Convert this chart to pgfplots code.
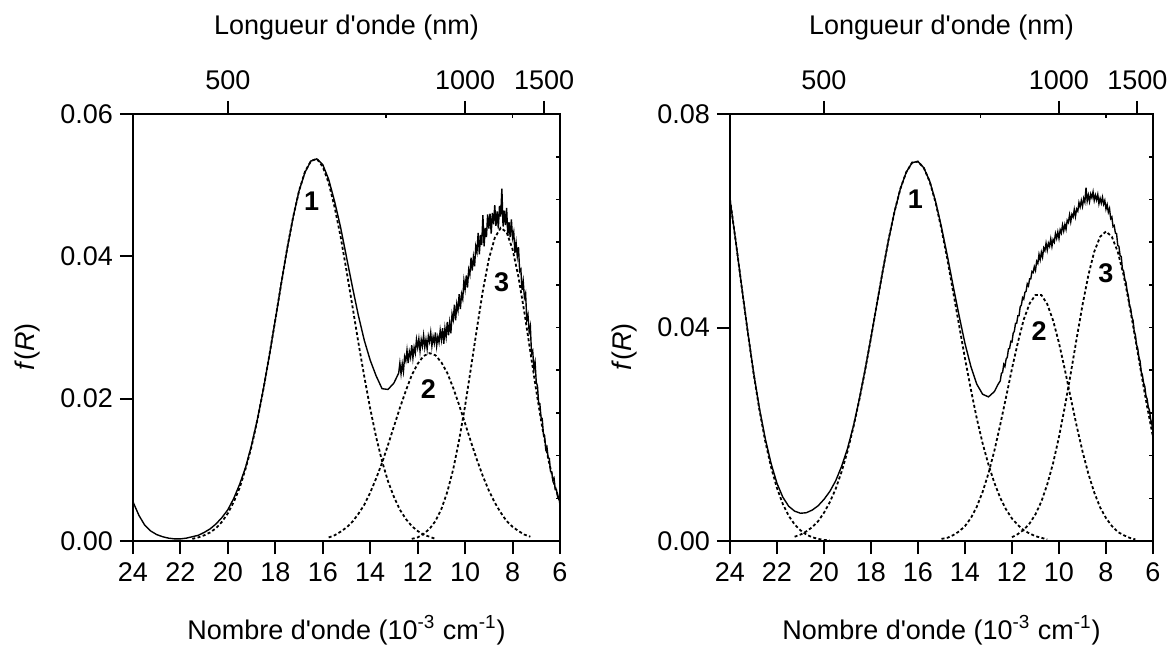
\documentclass[border=0pt]{standalone}
\usepackage{fontspec}
\setmainfont{Liberation Sans}[Ligatures=TeXOff]
\usepackage{pgfplots}
\pgfplotsset{compat=1.18}
\newcommand\tf{\fontsize{13.5}{16}\selectfont}
\newcommand\nf{\fontsize{13.5}{16}\selectfont\bfseries}
\pgfplotsset{
  panel/.style={scale only axis, width=213.5pt, height=213.5pt, xmin=6, xmax=24, x dir=reverse, clip=false,
     scaled x ticks=false, scaled y ticks=false,
     axis line style={line width=1pt, line cap=rect}, tick style={line width=1pt, black}, ticklabel style={font=\tf}},
  mainax/.style={panel, axis x line*=bottom, axis y line*=left, tick align=outside, major tick length=6.5pt,
     xtick={6,8,...,24}, xticklabels={6,8,10,12,14,16,18,20,22,24}, xticklabel style={yshift=-1pt}},
  topax/.style={panel, ymin=0, ymax=1, axis x line*=top, axis y line=none, tick align=outside, major tick length=6.5pt,
     xtick={20,10,6.6667}, xticklabels={500,1000,1500}, ytick=\empty, xticklabel style={yshift=2pt}},
  rightax/.style={panel, ymin=0, ymax=1, axis x line*=top, axis y line*=right, tick align=inside, major tick length=2pt,
     xtick={13.3333,8}, xticklabels={}, ytick={0.1,0.2,0.3,0.4,0.5,0.6,0.7,0.8,0.9}, yticklabels={}, tick style={line width=0.8pt}},
  tot/.style={black, line width=0.7pt},
  comp/.style={black, line width=0.9pt, dash pattern=on 1.5pt off 1.2pt},
}
\begin{document}
\begin{tikzpicture}
\path[use as bounding box] (-66.5pt,-52pt) rectangle (518pt,270.5pt);
% ================= LEFT PANEL =================
\begin{axis}[mainax, name=L, ymin=0, ymax=0.06, ytick={0,0.02,0.04,0.06}, yticklabels={0.00,0.02,0.04,0.06}]
\addplot[comp] coordinates {(21.5,0.0003)(21.25,0.0005)(21.0,0.0008)(20.75,0.0012)(20.5,0.0018)(20.25,0.0027)(20.0,0.0039)(19.75,0.0055)(19.5,0.0075)(19.25,0.0102)(19.0,0.0133)(18.75,0.0171)(18.5,0.0214)(18.25,0.0261)(18.0,0.0311)(17.75,0.0362)(17.5,0.0411)(17.25,0.0455)(17.0,0.0492)(16.75,0.0519)(16.5,0.0534)(16.25,0.0537)(16.0,0.0526)(15.75,0.0503)(15.5,0.0469)(15.25,0.0428)(15.0,0.0380)(14.75,0.0330)(14.5,0.0279)(14.25,0.0231)(14.0,0.0186)(13.75,0.0146)(13.5,0.0112)(13.25,0.0084)(13.0,0.0062)(12.75,0.0044)(12.5,0.0031)(12.25,0.0021)(12.0,0.0014)(11.75,0.0009)(11.5,0.0006)(11.25,0.0003)};
\addplot[comp] coordinates {(15.75,0.0005)(15.5,0.0008)(15.25,0.0013)(15.0,0.0019)(14.75,0.0027)(14.5,0.0038)(14.25,0.0051)(14.0,0.0068)(13.75,0.0088)(13.5,0.0110)(13.25,0.0135)(13.0,0.0161)(12.75,0.0187)(12.5,0.0211)(12.25,0.0233)(12.0,0.0249)(11.75,0.0260)(11.5,0.0264)(11.25,0.0261)(11.0,0.0251)(10.75,0.0236)(10.5,0.0215)(10.25,0.0191)(10.0,0.0165)(9.75,0.0139)(9.5,0.0114)(9.25,0.0091)(9.0,0.0071)(8.75,0.0054)(8.5,0.0040)(8.25,0.0028)(8.0,0.0020)(7.75,0.0014)(7.5,0.0009)(7.25,0.0006)};
\addplot[comp] coordinates {(12.25,0.0003)(12.0,0.0005)(11.75,0.0010)(11.5,0.0017)(11.25,0.0028)(11.0,0.0045)(10.75,0.0069)(10.5,0.0101)(10.25,0.0142)(10.0,0.0190)(9.75,0.0244)(9.5,0.0299)(9.25,0.0352)(9.0,0.0396)(8.75,0.0426)(8.5,0.0440)(8.25,0.0434)(8.0,0.0410)(7.75,0.0371)(7.5,0.0321)(7.25,0.0266)(7.0,0.0211)(6.75,0.0160)(6.5,0.0116)(6.25,0.0081)(6.0,0.0054)};
\addplot[tot] coordinates {(24.0,0.0055)(23.75,0.0036)(23.5,0.0022)(23.25,0.0014)(23.0,0.0009)(22.75,0.0006)(22.5,0.0004)(22.25,0.0003)(22.0,0.0003)(21.75,0.0004)(21.5,0.0006)(21.25,0.0008)(21.0,0.0012)(20.75,0.0017)(20.5,0.0024)(20.25,0.0033)(20.0,0.0044)(19.75,0.0060)(19.5,0.0080)(19.25,0.0104)(19.0,0.0135)(18.75,0.0172)(18.5,0.0214)(18.25,0.0261)(18.0,0.0311)(17.75,0.0362)(17.5,0.0411)(17.25,0.0455)(17.0,0.0492)(16.75,0.0518)(16.5,0.0534)(16.25,0.0537)(16.0,0.0529)(15.75,0.0508)(15.5,0.0477)(15.25,0.0441)(15.0,0.0399)(14.75,0.0357)(14.5,0.0317)(14.25,0.0282)(14.0,0.0254)(13.75,0.0232)(13.5,0.0214)(13.25,0.0213)(13.0,0.0222)(12.9,0.0229)(12.8,0.0236)
(12.75,0.0250)(12.70,0.0235)(12.65,0.0249)(12.60,0.0238)(12.55,0.0259)(12.50,0.0253)(12.45,0.0268)(12.40,0.0250)(12.35,0.0266)(12.30,0.0258)(12.25,0.0275)(12.20,0.0257)(12.15,0.0272)(12.10,0.0264)(12.05,0.0283)(12.00,0.0272)(11.95,0.0284)(11.90,0.0267)(11.85,0.0283)(11.80,0.0274)(11.75,0.0289)(11.70,0.0272)(11.65,0.0283)(11.60,0.0270)(11.55,0.0288)(11.50,0.0280)(11.45,0.0293)(11.40,0.0274)(11.35,0.0287)(11.30,0.0278)(11.25,0.0293)(11.20,0.0274)(11.15,0.0287)(11.10,0.0279)(11.05,0.0296)(11.00,0.0283)(10.95,0.0299)(10.90,0.0277)(10.85,0.0299)(10.80,0.0287)(10.75,0.0308)(10.70,0.0289)(10.65,0.0307)(10.60,0.0292)(10.55,0.0319)(10.50,0.0311)(10.45,0.0332)(10.40,0.0310)(10.35,0.0333)(10.30,0.0324)(10.25,0.0347)(10.20,0.0326)(10.15,0.0347)(10.10,0.0340)(10.05,0.0366)(10.00,0.0354)(9.95,0.0373)(9.90,0.0356)(9.85,0.0381)(9.80,0.0374)(9.75,0.0398)(9.70,0.0380)(9.65,0.0399)(9.60,0.0386)(9.55,0.0414)(9.50,0.0406)(9.45,0.0433)(9.40,0.0403)(9.35,0.0430)(9.30,0.0416)(9.25,0.0458)(9.20,0.0414)(9.15,0.0440)(9.10,0.0427)(9.05,0.0459)(9.00,0.0439)(8.95,0.0460)(8.90,0.0432)(8.85,0.0461)(8.80,0.0445)(8.75,0.0472)(8.70,0.0443)(8.65,0.0463)(8.60,0.0439)(8.55,0.0471)(8.50,0.0456)(8.45,0.0495)(8.40,0.0442)(8.35,0.0464)(8.30,0.0444)(8.25,0.0468)(8.20,0.0429)(8.15,0.0448)(8.10,0.0427)(8.05,0.0452)(8.00,0.0426)(7.95,0.0434)(7.90,0.0405)(7.85,0.0419)(7.80,0.0400)(7.75,0.0413)(7.70,0.0379)(7.65,0.0382)(7.60,0.0353)(7.55,0.0365)(7.50,0.0342)(7.45,0.0348)(7.40,0.0311)(7.35,0.0318)(7.30,0.0294)(7.25,0.0302)(7.20,0.0263)(7.15,0.0267)(7.10,0.0242)(7.05,0.0251)(7.00,0.0223)(6.95,0.0218)(6.90,0.0194)(6.85,0.0193)(6.80,0.0174)(6.75,0.0172)(6.70,0.0151)(6.65,0.0148)(6.60,0.0129)(6.55,0.0132)(6.50,0.0117)(6.45,0.0116)(6.40,0.0098)(6.35,0.0097)(6.30,0.0085)(6.25,0.0088)(6.20,0.0072)(6.15,0.0072)(6.10,0.0062)(6.05,0.0063)(6.00,0.0050)};
\node[font=\nf] at (axis cs:16.47,0.0478) {1};
\node[font=\nf] at (axis cs:11.55,0.0213) {2};
\node[font=\nf] at (axis cs:8.46,0.0364) {3};
\end{axis}
\begin{axis}[topax]
\end{axis}
\begin{axis}[rightax]
\end{axis}
% ================= RIGHT PANEL =================
\begin{axis}[mainax, at={(298.5pt,0pt)}, width=211.5pt, ymin=0, ymax=0.08, ytick={0,0.04,0.08}, yticklabels={0.00,0.04,0.08}]
\addplot[comp] coordinates {(24.0,0.0640)(23.75,0.0560)(23.5,0.0475)(23.25,0.0393)(23.0,0.0315)(22.75,0.0246)(22.5,0.0187)(22.25,0.0138)(22.0,0.0099)(21.75,0.0069)(21.5,0.0047)(21.25,0.0031)(21.0,0.0020)(20.75,0.0012)(20.5,0.0007)(20.25,0.0004)(20.0,0.0002)(19.75,0.0001)};
\addplot[comp] coordinates {(21.25,0.0008)(21.0,0.0012)(20.75,0.0018)(20.5,0.0026)(20.25,0.0037)(20.0,0.0053)(19.75,0.0073)(19.5,0.0098)(19.25,0.0130)(19.0,0.0168)(18.75,0.0213)(18.5,0.0264)(18.25,0.0320)(18.0,0.0381)(17.75,0.0444)(17.5,0.0506)(17.25,0.0565)(17.0,0.0617)(16.75,0.0660)(16.5,0.0691)(16.25,0.0709)(16.0,0.0711)(15.75,0.0699)(15.5,0.0673)(15.25,0.0634)(15.0,0.0584)(14.75,0.0528)(14.5,0.0466)(14.25,0.0404)(14.0,0.0342)(13.75,0.0284)(13.5,0.0230)(13.25,0.0183)(13.0,0.0143)(12.75,0.0109)(12.5,0.0081)(12.25,0.0059)(12.0,0.0042)(11.75,0.0030)(11.5,0.0020)(11.25,0.0014)(11.0,0.0009)(10.75,0.0006)(10.5,0.0003)};
\addplot[comp] coordinates {(15.0,0.0004)(14.75,0.0006)(14.5,0.0011)(14.25,0.0018)(14.0,0.0028)(13.75,0.0043)(13.5,0.0064)(13.25,0.0092)(13.0,0.0127)(12.75,0.0169)(12.5,0.0218)(12.25,0.0270)(12.0,0.0323)(11.75,0.0372)(11.5,0.0415)(11.25,0.0445)(11.0,0.0461)(10.75,0.0461)(10.5,0.0444)(10.25,0.0413)(10.0,0.0371)(9.75,0.0321)(9.5,0.0268)(9.25,0.0216)(9.0,0.0168)(8.75,0.0126)(8.5,0.0091)(8.25,0.0063)(8.0,0.0043)(7.75,0.0028)(7.5,0.0017)(7.25,0.0011)(7.0,0.0006)(6.75,0.0003)};
\addplot[comp] coordinates {(12.0,0.0007)(11.75,0.0013)(11.5,0.0021)(11.25,0.0033)(11.0,0.0050)(10.75,0.0074)(10.5,0.0106)(10.25,0.0146)(10.0,0.0195)(9.75,0.0252)(9.5,0.0314)(9.25,0.0379)(9.0,0.0442)(8.75,0.0498)(8.5,0.0542)(8.25,0.0570)(8.0,0.0580)(7.75,0.0570)(7.5,0.0542)(7.25,0.0498)(7.0,0.0442)(6.75,0.0379)(6.5,0.0314)(6.25,0.0252)(6.0,0.0195)};
\addplot[tot] coordinates {(24.0,0.0640)(23.75,0.0560)(23.5,0.0476)(23.25,0.0394)(23.0,0.0317)(22.75,0.0249)(22.5,0.0192)(22.25,0.0145)(22.0,0.0108)(21.75,0.0082)(21.5,0.0065)(21.25,0.0056)(21.0,0.0052)(20.75,0.0053)(20.5,0.0058)(20.25,0.0066)(20.0,0.0078)(19.75,0.0093)(19.5,0.0113)(19.25,0.0140)(19.0,0.0173)(18.75,0.0215)(18.5,0.0265)(18.25,0.0321)(18.0,0.0381)(17.75,0.0444)(17.5,0.0506)(17.25,0.0565)(17.0,0.0617)(16.75,0.0660)(16.5,0.0691)(16.25,0.0709)(16.0,0.0711)(15.75,0.0699)(15.5,0.0674)(15.25,0.0636)(15.0,0.0588)(14.75,0.0534)(14.5,0.0477)(14.25,0.0422)(14.0,0.0370)(13.75,0.0327)(13.5,0.0294)(13.25,0.0275)(13.0,0.0270)(12.75,0.0280)(12.6,0.0293)
(12.50,0.0300)(12.45,0.0314)(12.40,0.0316)(12.35,0.0331)(12.30,0.0327)(12.25,0.0341)(12.20,0.0344)(12.15,0.0360)(12.10,0.0361)(12.05,0.0374)(12.00,0.0373)(11.95,0.0389)(11.90,0.0393)(11.85,0.0408)(11.80,0.0408)(11.75,0.0422)(11.70,0.0422)(11.65,0.0439)(11.60,0.0442)(11.55,0.0456)(11.50,0.0453)(11.45,0.0466)(11.40,0.0468)(11.35,0.0482)(11.30,0.0478)(11.25,0.0491)(11.20,0.0491)(11.15,0.0505)(11.10,0.0503)(11.05,0.0514)(11.00,0.0507)(10.95,0.0524)(10.90,0.0520)(10.85,0.0537)(10.80,0.0527)(10.75,0.0541)(10.70,0.0532)(10.65,0.0549)(10.60,0.0544)(10.55,0.0558)(10.50,0.0545)(10.45,0.0558)(10.40,0.0552)(10.35,0.0566)(10.30,0.0552)(10.25,0.0565)(10.20,0.0560)(10.15,0.0576)(10.10,0.0567)(10.05,0.0579)(10.00,0.0567)(9.95,0.0583)(9.90,0.0577)(9.85,0.0592)(9.80,0.0581)(9.75,0.0593)(9.70,0.0584)(9.65,0.0601)(9.60,0.0597)(9.55,0.0611)(9.50,0.0598)(9.45,0.0612)(9.40,0.0607)(9.35,0.0621)(9.30,0.0608)(9.25,0.0622)(9.20,0.0618)(9.15,0.0634)(9.10,0.0626)(9.05,0.0638)(9.00,0.0627)(8.95,0.0642)(8.90,0.0635)(8.85,0.0662)(8.80,0.0637)(8.75,0.0648)(8.70,0.0636)(8.65,0.0650)(8.60,0.0643)(8.55,0.0654)(8.50,0.0638)(8.45,0.0648)(8.40,0.0639)(8.35,0.0649)(8.30,0.0632)(8.25,0.0642)(8.20,0.0633)(8.15,0.0644)(8.10,0.0631)(8.05,0.0638)(8.00,0.0622)(7.95,0.0630)(7.90,0.0616)(7.85,0.0623)(7.80,0.0604)(7.75,0.0607)(7.70,0.0589)(7.65,0.0591)(7.60,0.0577)(7.55,0.0576)(7.50,0.0554)(7.45,0.0552)(7.40,0.0535)(7.35,0.0533)(7.30,0.0509)(7.25,0.0506)(7.20,0.0490)(7.15,0.0485)(7.10,0.0468)(7.05,0.0460)(7.00,0.0440)(6.95,0.0436)(6.90,0.0419)(6.85,0.0414)(6.80,0.0393)(6.75,0.0386)(6.70,0.0368)(6.65,0.0361)(6.60,0.0345)(6.55,0.0337)(6.50,0.0317)(6.45,0.0311)(6.40,0.0296)(6.35,0.0290)(6.30,0.0272)(6.25,0.0266)(6.20,0.0251)(6.15,0.0245)(6.10,0.0228)(6.05,0.0220)(6.00,0.0205)};
\node[font=\nf] at (axis cs:16.11,0.064) {1};
\node[font=\nf] at (axis cs:10.85,0.0393) {2};
\node[font=\nf] at (axis cs:8.0,0.0502) {3};
\end{axis}
\begin{axis}[topax, at={(298.5pt,0pt)}, width=211.5pt]
\end{axis}
\begin{axis}[rightax, at={(298.5pt,0pt)}, width=211.5pt]
\end{axis}
% ================= LABELS =================
\node[font=\tf] at (106.75pt,256.5pt) {Longueur d'onde (nm)};
\node[font=\tf] at (404.25pt,256.5pt) {Longueur d'onde (nm)};
\node[font=\tf] at (106.75pt,-44.5pt) {Nombre d'onde (10\textsuperscript{-3} cm\textsuperscript{-1})};
\node[font=\tf] at (404.25pt,-44.5pt) {Nombre d'onde (10\textsuperscript{-3} cm\textsuperscript{-1})};
\node[font=\tf, rotate=90] at (-52.5pt,97pt) {\textit{f}(\textit{R})};
\node[font=\tf, rotate=90] at (246pt,97pt) {\textit{f}(\textit{R})};
\end{tikzpicture}
\end{document}
